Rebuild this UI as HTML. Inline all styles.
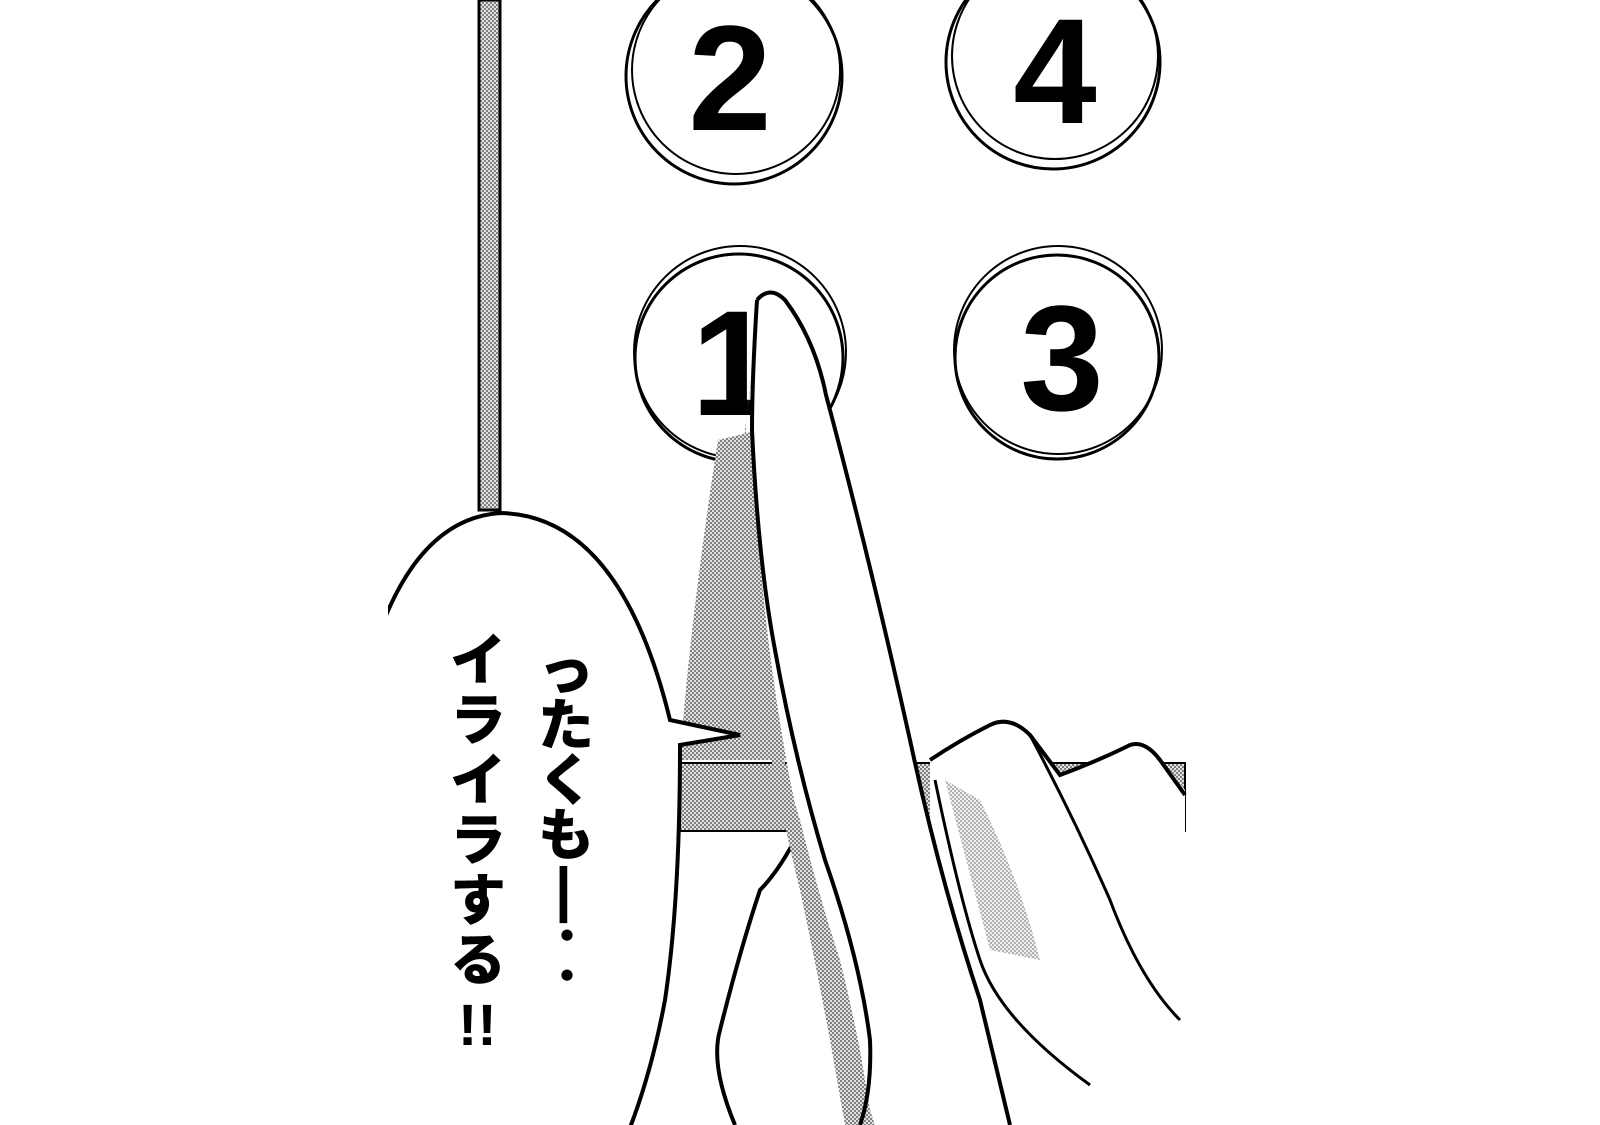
<!DOCTYPE html>
<html><head><meta charset="utf-8"><style>
html,body{margin:0;padding:0;background:#fff;}
svg{display:block}
.n{font-family:"Liberation Sans",sans-serif;font-weight:bold;font-size:150px;fill:#000;text-anchor:middle}
.t{font-family:"Liberation Sans","Noto Sans CJK JP",sans-serif;font-weight:900;font-size:56px;fill:#000}
</style></head><body>
<svg width="1600" height="1125" viewBox="0 0 1600 1125" xmlns="http://www.w3.org/2000/svg">
<defs>
<pattern id="d" width="4" height="4" patternUnits="userSpaceOnUse">
<rect width="4" height="4" fill="#e4e4e4"/><circle cx="1" cy="1" r="1.1" fill="#777"/><circle cx="3" cy="3" r="1.1" fill="#777"/>
</pattern>
<clipPath id="c"><rect x="388" y="0" width="1212" height="1125"/></clipPath>
</defs>
<rect width="1600" height="1125" fill="#fff"/>
<rect x="479" y="0" width="21" height="510" fill="url(#d)" stroke="#000" stroke-width="3"/>
<g fill="#fff" stroke="#000" stroke-width="3">
<circle cx="734" cy="76" r="108"/><circle cx="736" cy="70" r="104" fill="none" stroke-width="2"/>
<circle cx="1053" cy="62" r="107"/><circle cx="1055" cy="56" r="103" fill="none" stroke-width="2"/>
<circle cx="739" cy="358" r="104"/><circle cx="740" cy="352" r="106" fill="none" stroke-width="2"/>
<circle cx="1057" cy="357" r="102"/><circle cx="1058" cy="350" r="104" fill="none" stroke-width="2"/>
</g>
<text class="n" x="730" y="130" textLength="80">2</text>
<text class="n" x="1055" y="123">4</text>
<text class="n" x="733" y="415">1</text>
<text class="n" x="1062" y="410">3</text>
<path d="M718 440 L760 430 L790 650 L800 760 L680 760 Q690 620 718 440 Z" fill="url(#d)"/>
<rect x="680" y="763" width="505" height="68" fill="url(#d)" stroke="#000" stroke-width="2"/>
<path d="M930 760 Q960 740 990 725 Q1010 715 1030 735 L1060 775 Q1100 760 1130 745 Q1145 740 1160 760 L1185 790 L1185 1125 L930 1125 Z" fill="#fff"/>
<path d="M930 760 Q960 740 990 725 Q1010 715 1030 735 L1060 775 Q1100 760 1130 745 Q1145 740 1160 760 L1185 795" fill="none" stroke="#000" stroke-width="4"/>
<path d="M1030 735 Q1075 820 1110 900 Q1140 980 1180 1020" fill="none" stroke="#000" stroke-width="3"/>
<path d="M935 780 Q960 900 980 960 Q1000 1020 1090 1085" fill="none" stroke="#000" stroke-width="3"/>
<path d="M945 780 L980 800 Q1020 880 1040 960 L990 950 Z" fill="url(#d)" opacity="0.6"/>
<path d="M800 830 Q780 870 760 890 Q740 950 715 1030 Q700 1060 720 1125 L880 1125 L880 860 Z" fill="#fff"/>
<path d="M800 830 Q780 870 760 890 Q740 950 720 1030 Q710 1065 735 1125" fill="none" stroke="#000" stroke-width="4"/>
<path d="M757 300 Q770 285 785 300 Q815 340 826 395 Q870 560 910 740 Q940 880 980 1000 L1010 1125 L880 1125 Q860 1060 845 1000 Q815 900 790 780 Q760 620 755 470 Q752 380 757 300 Z" fill="#fff"/>
<path d="M757 330 Q752 380 746 420 Q745 520 760 620 Q780 760 800 820 Q820 900 840 960 Q850 1000 860 1050 L870 1110 L875 1125 L845 1125 L830 1040 Q815 960 800 890 Q775 790 752 650 Q738 540 745 430 Z" fill="url(#d)"/>
<path d="M757 300 Q770 285 785 300 Q815 340 826 395 Q870 560 910 740 Q940 880 980 1000 L1010 1125" fill="none" stroke="#000" stroke-width="4"/>
<path d="M757 300 Q752 380 752 430 Q758 560 775 650 Q795 760 825 860 Q860 960 870 1040 Q872 1090 860 1125" fill="none" stroke="#000" stroke-width="4"/>
<g clip-path="url(#c)">
<path d="M360 1140 L360 700 Q400 520 500 513 Q620 515 670 720 L740 735 L680 745 Q680 900 665 1000 Q650 1080 625 1140 Z" fill="#fff" stroke="#000" stroke-width="4"/>
</g>
<g class="t">
<text x="538" y="690">っ</text>
<text x="538" y="745">た</text>
<text x="538" y="800">く</text>
<text x="538" y="855">も</text>
<text x="555" y="910" style="font-size:60px">|</text>
<text x="547" y="950" style="font-size:40px">・</text>
<text x="547" y="990" style="font-size:40px">・</text>
<text x="450" y="680">イ</text>
<text x="450" y="740">ラ</text>
<text x="450" y="800">イ</text>
<text x="450" y="860">ラ</text>
<text x="450" y="920">す</text>
<text x="450" y="980">る</text>
<text x="458" y="1045" style="font-size:58px">!!</text>
</g>
</svg>
</body></html>
